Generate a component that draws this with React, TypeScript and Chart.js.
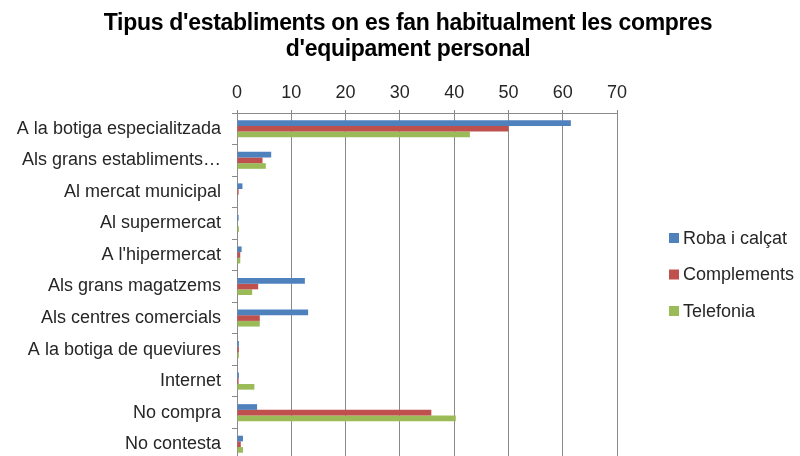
import React, { useEffect, useRef } from "react";
import { Chart, registerables } from "chart.js";

Chart.register(...registerables);

const titleLines = [
  "Tipus d'establiments on es fan habitualment les compres",
  "d'equipament personal",
];

const categories = [
  "A la botiga especialitzada",
  "Als grans establiments…",
  "Al mercat municipal",
  "Al supermercat",
  "A l'hipermercat",
  "Als grans magatzems",
  "Als centres comercials",
  "A la botiga de queviures",
  "Internet",
  "No compra",
  "No contesta",
];

const seriesNames = ["Roba i calçat", "Complements", "Telefonia"];

const robaCalcat = [61.5, 6.3, 1.0, 0.3, 0.85, 12.5, 13.1, 0.35, 0.35, 3.7, 1.1];
const complements = [50.0, 4.7, 0.3, 0, 0.6, 3.9, 4.2, 0.35, 0.3, 35.8, 0.7];
const telefonia = [42.9, 5.3, 0, 0.35, 0.6, 2.8, 4.2, 0.35, 3.2, 40.3, 1.1];

const xTicks = [0, 10, 20, 30, 40, 50, 60, 70];

const colors = ["#4F81BD", "#C0504D", "#9BBB59"];

const FONT = '"Liberation Sans", Arial, sans-serif';

const titlePlugin = {
  id: "customTitle",
  afterDraw(chart: any) {
    const ctx = chart.ctx;
    ctx.save();
    ctx.fillStyle = "#000";
    ctx.font = `bold 23px ${FONT}`;
    ctx.textAlign = "center";
    ctx.textBaseline = "alphabetic";
    try {
      (ctx as any).letterSpacing = "-0.3px";
    } catch (e) {}
    ctx.fillText(titleLines[0], 408, 29.5);
    ctx.fillText(titleLines[1], 408, 55.5);
    ctx.restore();
  },
};

const legendPlugin = {
  id: "customLegend",
  afterDraw(chart: any) {
    const ctx = chart.ctx;
    ctx.save();
    ctx.font = `18px ${FONT}`;
    ctx.textBaseline = "middle";
    ctx.textAlign = "left";
    chart.data.datasets.forEach((ds: any, i: number) => {
      const cy = 238 + i * 36.5;
      ctx.fillStyle = ds.backgroundColor;
      ctx.fillRect(669, cy - 5, 10, 10);
      ctx.fillStyle = "#262626";
      ctx.fillText(ds.label, 683, cy + 1);
    });
    ctx.restore();
  },
};

export default function App() {
  const ref = useRef<HTMLCanvasElement>(null);

  useEffect(() => {
    if (!ref.current) return;
    const datasets = [robaCalcat, complements, telefonia].map((d, i) => ({
      label: seriesNames[i],
      data: d,
      backgroundColor: colors[i],
      borderWidth: 0,
      categoryPercentage: 0.54,
      barPercentage: 1.0,
    }));
    const chart = new Chart(ref.current, {
      type: "bar",
      data: { labels: categories, datasets },
      plugins: [titlePlugin, legendPlugin],
      options: {
        indexAxis: "y",
        animation: false,
        responsive: false,
        maintainAspectRatio: false,
        layout: { padding: { top: 0, left: 0, right: 183, bottom: 0 } },
        plugins: {
          legend: { display: false },
          title: { display: false },
          tooltip: { enabled: false },
        },
        scales: {
          x: {
            type: "linear",
            position: "top",
            min: 0,
            max: 70,
            afterBuildTicks: (scale: any) => {
              scale.ticks = xTicks.map((v) => ({ value: v }));
            },
            afterFit: (scale: any) => {
              scale.height = 113;
              scale.paddingTop = 0;
              scale.paddingBottom = 0;
            },
            ticks: {
              font: { family: FONT, size: 18 },
              color: "#262626",
              padding: 6.5,
            },
            grid: { color: "#8A8A8A", tickLength: 3, lineWidth: 1 },
            border: { color: "#8A8A8A" },
          },
          y: {
            type: "category",
            afterFit: (scale: any) => {
              scale.width = 237;
              scale.paddingTop = 0;
              scale.paddingBottom = 0;
            },
            ticks: {
              font: { family: FONT, size: 18 },
              color: "#262626",
              padding: 11,
            },
            grid: {
              drawOnChartArea: false,
              tickLength: 5,
              color: "#8A8A8A",
              offset: true,
            },
            border: { color: "#8A8A8A" },
          },
        },
      },
    });
    return () => chart.destroy();
  }, []);

  return (
    <div
      style={{
        position: "fixed",
        top: 0,
        left: 0,
        width: 800,
        height: 456,
        overflow: "hidden",
        background: "#fff",
      }}
    >
      <canvas ref={ref} width={800} height={460} style={{ display: "block" }} />
    </div>
  );
}
